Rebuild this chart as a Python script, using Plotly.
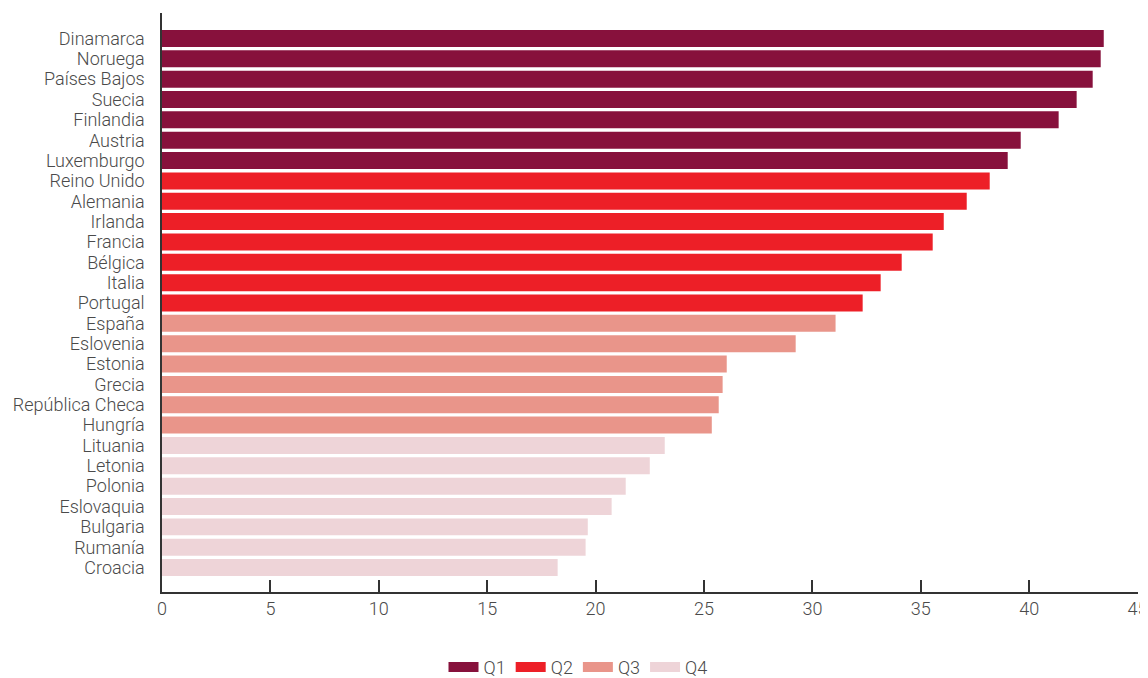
import plotly.graph_objects as go

countries_q1 = ["Dinamarca", "Noruega", "Países Bajos", "Suecia", "Finlandia", "Austria", "Luxemburgo"]
values_q1 = [43.44, 43.30, 42.93, 42.19, 41.36, 39.61, 39.01]

countries_q2 = ["Reino Unido", "Alemania", "Irlanda", "Francia", "Bélgica", "Italia", "Portugal"]
values_q2 = [38.18, 37.12, 36.06, 35.55, 34.12, 33.15, 32.32]

countries_q3 = ["España", "Eslovenia", "Estonia", "Grecia", "República Checa", "Hungría"]
values_q3 = [31.07, 29.23, 26.05, 25.86, 25.68, 25.36]

countries_q4 = ["Lituania", "Letonia", "Polonia", "Eslovaquia", "Bulgaria", "Rumanía", "Croacia"]
values_q4 = [23.19, 22.50, 21.39, 20.74, 19.64, 19.54, 18.25]

group_names = ["Q1", "Q2", "Q3", "Q4"]
group_colors = ["#87113C", "#ED1F27", "#E9958A", "#EED4D8"]

x_ticks = [0, 5, 10, 15, 20, 25, 30, 35, 40, 45]

groups = [
    (countries_q1, values_q1),
    (countries_q2, values_q2),
    (countries_q3, values_q3),
    (countries_q4, values_q4),
]

all_countries = countries_q1 + countries_q2 + countries_q3 + countries_q4

FONT = "Roboto"
TEXT_COLOR = "#4a4a4a"

fig = go.Figure()
for name, color, (cats, vals) in zip(group_names, group_colors, groups):
    fig.add_trace(go.Bar(
        y=cats, x=vals, orientation="h", name=name,
        marker=dict(color=color, line=dict(width=0)),
        hoverinfo="x+y", showlegend=False, legendgroup=name,
    ))
    # legend-only swatch drawn as a thick short line (rectangular key)
    fig.add_trace(go.Scatter(
        x=[None], y=[None], mode="lines", name=name,
        line=dict(color=color, width=17),
        legendgroup=name, showlegend=True, hoverinfo="skip",
    ))

fig.update_layout(
    width=1140, height=670,
    margin=dict(l=154, r=10, t=5, b=86, autoexpand=False),
    plot_bgcolor="white", paper_bgcolor="white",
    barmode="overlay",
    bargap=0.165,
    font=dict(family=FONT, size=18, color=TEXT_COLOR),
    showlegend=True,
    legend=dict(
        orientation="h",
        xref="container", yref="container",
        x=0.5, xanchor="center",
        y=0.016, yanchor="middle",
        font=dict(family=FONT, size=18, color=TEXT_COLOR, weight=300),
        traceorder="normal",
        itemclick=False,
        itemwidth=30,
    ),
)

fig.update_yaxes(
    type="category",
    categoryorder="array", categoryarray=all_countries,
    tickmode="array", tickvals=all_countries, ticktext=all_countries,
    range=[len(all_countries) - 1 + 1.2, -1.25],
    showline=True, linecolor="#333333", linewidth=1.5,
    ticks="", showgrid=False, zeroline=False,
    ticklabelstandoff=12,
    tickfont=dict(family=FONT, size=18, color=TEXT_COLOR, weight=300),
)

fig.update_xaxes(
    range=[0, 45.02],
    tickvals=x_ticks,
    ticktext=[str(t) for t in x_ticks],
    showline=True, linecolor="#333333", linewidth=1.5,
    ticks="inside", ticklen=12, tickwidth=1.5, tickcolor="#333333",
    showgrid=False, zeroline=False,
    ticklabelstandoff=0, ticklabeloverflow="allow",
    tickfont=dict(family=FONT, size=18, color=TEXT_COLOR, weight=300),
)

fig.write_html("out.html")
